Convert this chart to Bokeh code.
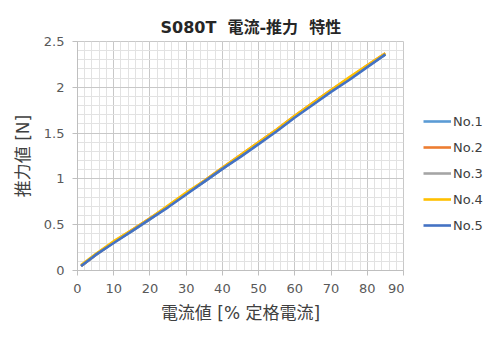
from bokeh.plotting import figure
from bokeh.layouts import row
from bokeh.models import (SingleIntervalTicker, CustomJSTickFormatter, Legend, LegendItem,
                          Range1d, Title)
from bokeh.embed import file_html
from bokeh.resources import INLINE

# ---- data ----
current = [1, 5, 10, 15, 20, 25, 30, 35, 40, 45, 50, 55, 60, 65, 70, 75, 80, 85]
no1 = [0.05, 0.17, 0.31, 0.43, 0.56, 0.70, 0.84, 0.97, 1.11, 1.25, 1.39, 1.53, 1.68, 1.82, 1.96, 2.09, 2.23, 2.36]
no2 = [0.05, 0.17, 0.31, 0.44, 0.57, 0.70, 0.84, 0.98, 1.12, 1.26, 1.40, 1.54, 1.69, 1.83, 1.97, 2.10, 2.24, 2.37]
no3 = [0.05, 0.17, 0.31, 0.43, 0.56, 0.70, 0.84, 0.97, 1.11, 1.25, 1.39, 1.53, 1.68, 1.82, 1.96, 2.09, 2.23, 2.36]
no4 = [0.06, 0.18, 0.32, 0.44, 0.57, 0.71, 0.85, 0.98, 1.12, 1.26, 1.40, 1.54, 1.69, 1.83, 1.97, 2.11, 2.24, 2.37]
no5 = [0.05, 0.17, 0.30, 0.43, 0.56, 0.69, 0.83, 0.97, 1.11, 1.24, 1.38, 1.52, 1.67, 1.81, 1.95, 2.08, 2.22, 2.36]
series_names = ["No.1", "No.2", "No.3", "No.4", "No.5"]
series_colors = ["#5B9BD5", "#ED7D31", "#A5A5A5", "#FFC000", "#4472C4"]
title_text = "S080T\u00a0 電流-推力\u00a0 特性"
x_label = "電流値 [% 定格電流]"
y_label = "推力値 [N]"
all_series = [no1, no2, no3, no4, no5]

LATIN_CJK = "'DejaVu Sans', 'Noto Sans CJK JP'"

p = figure(width=404, height=340, output_backend="svg", toolbar_location=None,
           x_range=Range1d(0, 90), y_range=Range1d(0, 2.5),
           min_border_left=77, min_border_right=1, min_border_top=41, min_border_bottom=70,
           background_fill_color="white", border_fill_color="white")

p.title = Title(text=title_text, align="left", offset=83, text_font=LATIN_CJK,
                text_font_size="16px", text_font_style="bold", text_color="#262626")

p.xaxis.ticker = SingleIntervalTicker(interval=10, num_minor_ticks=5)
p.yaxis.ticker = SingleIntervalTicker(interval=0.5, num_minor_ticks=5)
p.yaxis.formatter = CustomJSTickFormatter(code="return String(Math.round(tick*10)/10);")
p.xaxis.formatter = CustomJSTickFormatter(code="return String(Math.round(tick));")

for ax in (p.xaxis, p.yaxis):
    ax.axis_line_color = "#BFBFBF"
    ax.major_tick_line_color = "#BFBFBF"
    ax.major_tick_out = 5
    ax.major_tick_in = 0
    ax.minor_tick_line_color = None
    ax.major_label_text_font = "DejaVu Sans"
    ax.major_label_text_font_size = "13px"
    ax.major_label_text_color = "#595959"
    ax.axis_label_text_font = LATIN_CJK
    ax.axis_label_text_font_size = "17px"
    ax.axis_label_text_font_style = "normal"
    ax.axis_label_text_color = "#404040"

p.xaxis.axis_label = x_label
p.yaxis.axis_label = y_label
p.xaxis.major_label_standoff = 8
p.yaxis.major_label_standoff = 8
p.xaxis.axis_label_standoff = 7
p.yaxis.axis_label_standoff = 8

for g in (p.xgrid, p.ygrid):
    g.grid_line_color = "#C8C8C8"
    g.grid_line_width = 1
    g.minor_grid_line_color = "#E2E2E2"
    g.minor_grid_line_width = 1
p.outline_line_color = "#C8C8C8"

for ys, col in zip(all_series, series_colors):
    p.line(current, ys, line_color=col, line_width=2.6)

# legend panel to the right of the plot (its ranges keep the copies of the lines out of view)
q = figure(width=96, height=340, output_backend="svg", toolbar_location=None,
           x_axis_type=None, y_axis_type=None, x_range=Range1d(-20, -10), y_range=Range1d(0, 1),
           min_border=0, outline_line_color=None, border_fill_color="white",
           background_fill_color="white")
q.xgrid.visible = False
q.ygrid.visible = False
items = []
for name, ys, col in zip(series_names, all_series, series_colors):
    r = q.line(current, ys, line_color=col, line_width=2.6)
    items.append(LegendItem(label=name, renderers=[r]))

legend = Legend(items=items, location=(19, 35), orientation="vertical",
                glyph_width=28, glyph_height=20, label_height=20, spacing=6,
                label_standoff=2, padding=0, margin=0, border_line_color=None,
                background_fill_alpha=0, label_text_font="DejaVu Sans",
                label_text_font_size="13px", label_text_color="#404040")
q.add_layout(legend, "center")

layout = row(p, q, spacing=0)
open("out.html", "w").write(file_html(layout, INLINE))
